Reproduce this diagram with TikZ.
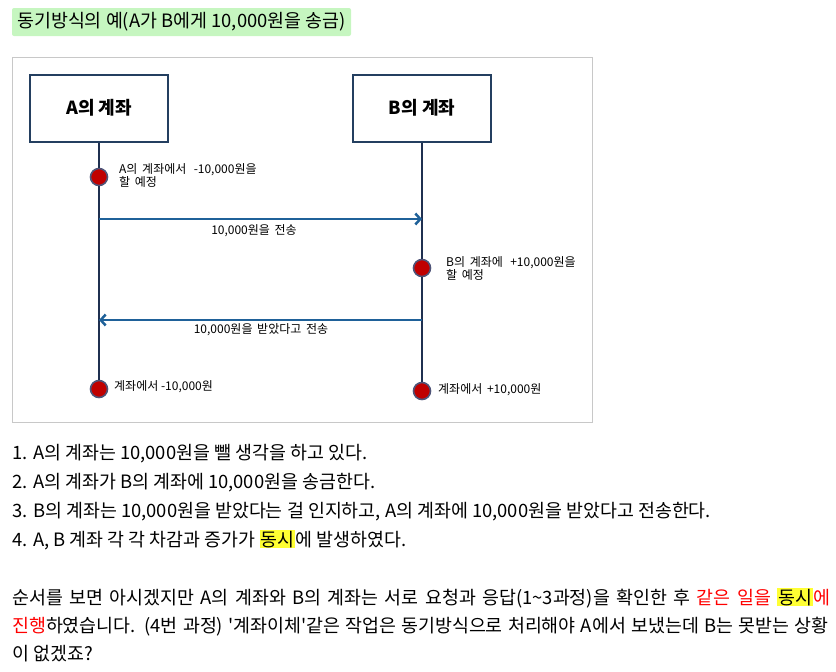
\documentclass[tikz,border=0pt]{standalone}
\usepackage{fontspec}
\setmainfont{Noto Sans CJK KR}
\usepackage{xcolor}
\usetikzlibrary{arrows.meta}

\definecolor{titlegreen}{HTML}{C6F6C0}
\definecolor{framegray}{HTML}{C8C8C8}
\definecolor{boxnavy}{HTML}{243F60}
\definecolor{lifenavy}{HTML}{1F3050}
\definecolor{msgblue}{HTML}{1F6199}
\definecolor{dotred}{HTML}{C00000}
\definecolor{dotedge}{HTML}{4F5478}
\definecolor{hlyellow}{HTML}{FFFF33}
\definecolor{txtred}{HTML}{FF0000}

\newcommand{\hl}[1]{{\setlength{\fboxsep}{1pt}\colorbox{hlyellow}{#1}}}
\newcommand{\rd}[1]{\textcolor{txtred}{#1}}

\tikzset{
  account/.style={draw=boxnavy, line width=2pt, minimum width=138, minimum height=67,
    font=\fontsize{18}{21}\selectfont\bfseries},
  lifeline/.style={draw=lifenavy, line width=2pt},
  event/.style={circle, fill=dotred, draw=dotedge, line width=1.6pt, minimum size=17, inner sep=0pt},
  msg/.style={draw=msgblue, line width=2.5pt, -{Straight Barb[length=5pt,width=11pt]}},
  small/.style={font=\fontsize{12}{13}\selectfont, inner sep=0pt, align=left},
  body/.style={font=\fontsize{18.4}{22}\selectfont, inner sep=0pt, anchor=base west}
}

\begin{document}
\begin{tikzpicture}[x=1pt,y=-1pt]
  \pgfmathsetmacro{\xa}{99}
  \pgfmathsetmacro{\xb}{422}
  \useasboundingbox (0,0) rectangle (836,672);

  % title
  \node [fill=titlegreen, rounded corners=2pt, minimum width=339, minimum height=28,
    font=\fontsize{18.4}{22}\selectfont, inner sep=0pt] (title) at (181.5,22)
    {동기방식의 예(A가 B에게 10,000원을 송금)};

  % diagram frame
  \draw [framegray, line width=1pt] (12,57) rectangle (592,422);

  \node [account] (boxA) at (\xa,108) {A의 계좌};
  \node [account] (boxB) at (\xb,108) {B의 계좌};

  \node [event] (dotA1) at (\xa,177) {};
  \node [event] (dotB1) at (\xb,268) {};
  \node [event] (dotA2) at (\xa,389) {};
  \node [event] (dotB2) at (\xb,391) {};

  \draw [lifeline] (boxA.south) -- (dotA1);
  \draw [lifeline] (dotA1) -- (dotA2);
  \draw [lifeline] (boxB.south) -- (dotB1);
  \draw [lifeline] (dotB1) -- (dotB2);

  \coordinate (sendA) at (\xa,219);
  \coordinate (sendB) at (\xb,219);
  \coordinate (backA) at (\xa,320);
  \coordinate (backB) at (\xb,320);
  \draw [msg] (sendA) -- (sendB);
  \draw [msg] (backB) -- (backA);

  \node [small, anchor=north] (sendlbl) at (254,224) {10,000원을 \,전송};
  \node [small, anchor=north] (backlbl) at (261,323) {10,000원을 \,받았다고 \,전송};

  \node [small, anchor=north west] (lblA1) at (119,163) {A의 \,계좌에서 \ \,-10,000원을\\할 \,예정};
  \node [small, anchor=north west] (lblB1) at (446,256) {B의 \,계좌에 \ \,+10,000원을\\할 \,예정};
  \node [small, anchor=west] (lblA2) at (114,387) {계좌에서 -10,000원};
  \node [small, anchor=west] (lblB2) at (438,390) {계좌에서 \,+10,000원};

  % steps
  \node [body] (step1) at (12,459) {1. A의 계좌는 10,000원을 뺄 생각을 하고 있다.};
  \node [body] (step2) at (12,488) {2. A의 계좌가 B의 계좌에 10,000원을 송금한다.};
  \node [body] (step3) at (12,517) {3. B의 계좌는 10,000원을 받았다는 걸 인지하고, A의 계좌에 10,000원을 받았다고 전송한다.};
  \node [body] (step4) at (12,546) {4. A, B 계좌 각 각 차감과 증가가 \hl{동시}에 발생하였다.};

  % summary
  \node [body] (para1) at (12,604) {\makebox[818pt][s]{순서를 보면 아시겠지만 A의 계좌와 B의 계좌는 서로 요청과 응답(1\textasciitilde3과정)을 확인한 후 \rd{같은} \rd{일을} \hl{동시}\rd{에}}};
  \node [body] (para2) at (12,632) {\makebox[816pt][s]{\rd{진행}하였습니다. (4번 과정) \textquotesingle 계좌이체\textquotesingle 같은 작업은 동기방식으로 처리해야 A에서 보냈는데 B는 못받는 상황}};
  \node [body] (para3) at (12,660) {이 없겠죠?};
\end{tikzpicture}
\end{document}
